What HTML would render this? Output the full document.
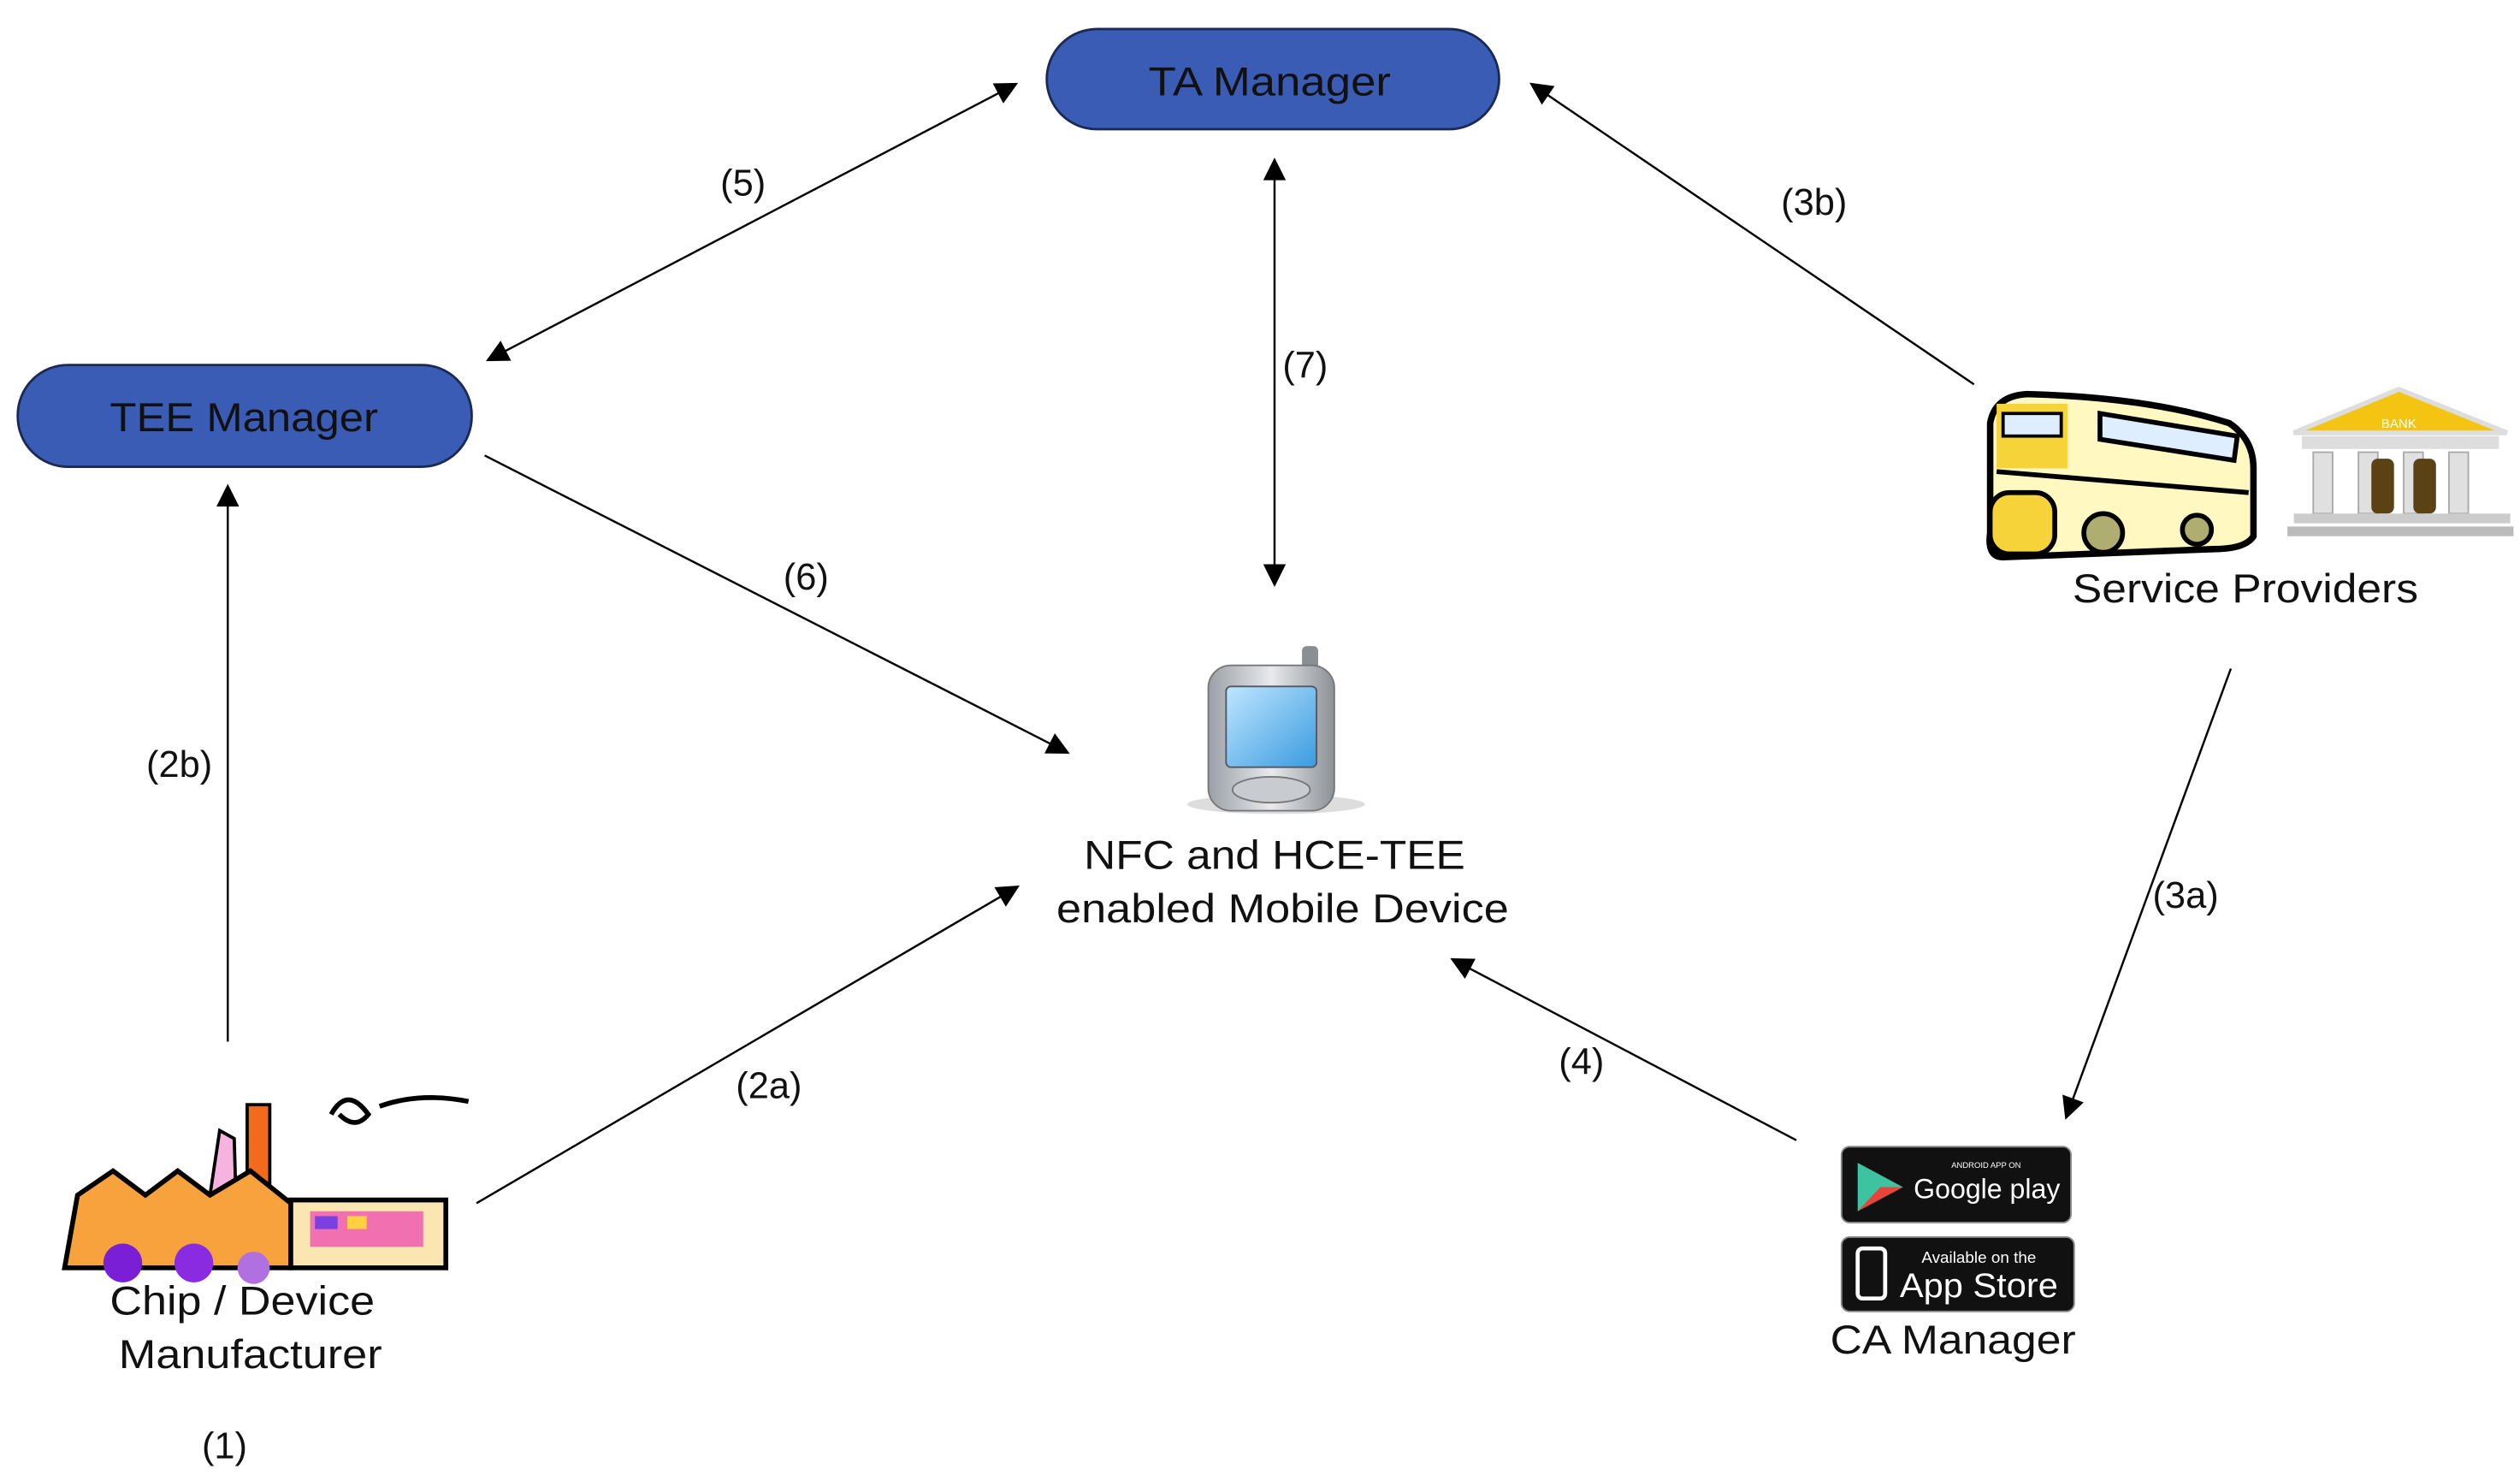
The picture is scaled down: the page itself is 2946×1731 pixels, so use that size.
<!DOCTYPE html>
<html><head><meta charset="utf-8"><style>
html,body{margin:0;padding:0;background:#fff;}
svg{display:block;}
text{font-family:"Liberation Sans",sans-serif;fill:#111;}
</style></head><body>
<svg width="2946" height="1731" viewBox="0 0 1560 917" preserveAspectRatio="none" xmlns="http://www.w3.org/2000/svg">
<defs>
<marker id="ah" viewBox="0 0 10 10" refX="9" refY="5" markerWidth="16" markerHeight="14" markerUnits="userSpaceOnUse" orient="auto-start-reverse">
<path d="M0,0 L10,5 L0,10 z" fill="#000"/></marker>
<linearGradient id="scr" x1="0" y1="0" x2="1" y2="1"><stop offset="0" stop-color="#bfe6ff"/><stop offset="1" stop-color="#3a9be0"/></linearGradient>
<linearGradient id="ph" x1="0" y1="0" x2="1" y2="0"><stop offset="0" stop-color="#9aa0a6"/><stop offset="0.5" stop-color="#e8eaec"/><stop offset="1" stop-color="#8c9196"/></linearGradient>
</defs>
<rect width="1560" height="917" fill="#fff"/>

<!-- pills -->
<rect x="648" y="18" width="280" height="62" rx="31" fill="#3a5cb4" stroke="#1b2a55" stroke-width="1.5"/>
<text x="786" y="59" font-size="25" text-anchor="middle" textLength="150" lengthAdjust="spacingAndGlyphs">TA Manager</text>
<rect x="11" y="226" width="281" height="63" rx="31" fill="#3a5cb4" stroke="#1b2a55" stroke-width="1.5"/>
<text x="151" y="267" font-size="25" text-anchor="middle" textLength="166" lengthAdjust="spacingAndGlyphs">TEE Manager</text>

<!-- arrows -->
<g stroke="#000" stroke-width="1.3" fill="none">
<line x1="302" y1="223" x2="629" y2="52" marker-start="url(#ah)" marker-end="url(#ah)"/>
<line x1="789" y1="99" x2="789" y2="362" marker-start="url(#ah)" marker-end="url(#ah)"/>
<line x1="1222" y1="238" x2="948" y2="52" marker-end="url(#ah)"/>
<line x1="300" y1="282" x2="661" y2="466" marker-end="url(#ah)"/>
<line x1="141" y1="645" x2="141" y2="301" marker-end="url(#ah)"/>
<line x1="295" y1="745" x2="630" y2="549" marker-end="url(#ah)"/>
<line x1="1112" y1="706" x2="899" y2="594" marker-end="url(#ah)"/>
<line x1="1381" y1="414" x2="1279" y2="692" marker-end="url(#ah)"/>
</g>

<!-- labels -->
<g font-size="23" text-anchor="middle">
<text x="460" y="121">(5)</text>
<text x="808" y="234">(7)</text>
<text x="1123" y="133">(3b)</text>
<text x="499" y="365">(6)</text>
<text x="111" y="481">(2b)</text>
<text x="476" y="680">(2a)</text>
<text x="979" y="665">(4)</text>
<text x="1353" y="562">(3a)</text>
<text x="139" y="903">(1)</text>
</g>
<g font-size="25" text-anchor="middle">
<text x="789" y="538" textLength="236" lengthAdjust="spacingAndGlyphs">NFC and HCE-TEE</text>
<text x="794" y="571" textLength="280" lengthAdjust="spacingAndGlyphs">enabled  Mobile  Device</text>
<text x="1390" y="373" textLength="214" lengthAdjust="spacingAndGlyphs">Service  Providers</text>
<text x="150" y="814" textLength="164" lengthAdjust="spacingAndGlyphs">Chip / Device</text>
<text x="155" y="847" textLength="163" lengthAdjust="spacingAndGlyphs">Manufacturer</text>
<text x="1209" y="838" textLength="152" lengthAdjust="spacingAndGlyphs">CA Manager</text>
</g>

<!-- phone -->
<ellipse cx="790" cy="498" rx="55" ry="6" fill="#ddd"/>
<rect x="806" y="400" width="10" height="22" rx="3" fill="#8a8f94"/>
<rect x="748" y="412" width="78" height="90" rx="14" fill="url(#ph)" stroke="#777"/>
<rect x="759" y="425" width="56" height="50" rx="3" fill="url(#scr)" stroke="#556"/>
<ellipse cx="787" cy="489" rx="24" ry="8" fill="#c8ccd0" stroke="#777"/>

<!-- bus -->
<path d="M1232,330 L1232,262 Q1235,245 1255,244 Q1330,246 1380,262 Q1395,272 1395,290 L1395,332 Q1390,340 1370,340 L1240,345 Q1230,345 1232,330 z" fill="#fff8c0" stroke="#000" stroke-width="4"/>
<rect x="1236" y="250" width="44" height="40" fill="#f7d33a"/>
<rect x="1240" y="256" width="36" height="14" fill="#dfeeff" stroke="#000" stroke-width="2"/>
<path d="M1300,256 L1385,270 L1383,285 L1300,272z" fill="#dfeeff" stroke="#000" stroke-width="3"/>
<line x1="1236" y1="292" x2="1392" y2="305" stroke="#000" stroke-width="3"/>
<rect x="1232" y="305" width="40" height="38" rx="12" fill="#f7d33a" stroke="#000" stroke-width="3"/>
<circle cx="1302" cy="330" r="12" fill="#b0ad70" stroke="#000" stroke-width="3"/>
<circle cx="1360" cy="328" r="9" fill="#b0ad70" stroke="#000" stroke-width="3"/>

<!-- bank -->
<polygon points="1485,241 1420,268 1552,268" fill="#f4c412" stroke="#ddd" stroke-width="3"/>
<text x="1485" y="265" font-size="8" text-anchor="middle" fill="#fff" style="fill:#fff">BANK</text>
<rect x="1425" y="270" width="122" height="8" fill="#ddd"/>
<g fill="#e0e0e0" stroke="#aaa">
<rect x="1432" y="280" width="12" height="38"/><rect x="1460" y="280" width="12" height="38"/>
<rect x="1488" y="280" width="12" height="38"/><rect x="1516" y="280" width="12" height="38"/>
</g>
<rect x="1468" y="284" width="14" height="34" rx="4" fill="#5a4214"/>
<rect x="1494" y="284" width="14" height="34" rx="4" fill="#5a4214"/>
<rect x="1420" y="318" width="134" height="6" fill="#ccc"/>
<rect x="1416" y="326" width="140" height="6" fill="#bbb"/>

<!-- factory -->
<path d="M205,690 Q215,672 228,690 Q220,700 210,690 M235,685 Q260,676 290,682" stroke="#000" stroke-width="3" fill="none"/>
<rect x="153" y="684" width="14" height="60" fill="#f26a1b" stroke="#000" stroke-width="2"/>
<polygon points="130,740 136,700 145,705 146,740" fill="#f6b3e0" stroke="#000" stroke-width="2"/>
<polygon points="40,785 48,740 70,725 90,740 110,725 130,740 155,725 180,745 180,785" fill="#f7a23d" stroke="#000" stroke-width="3"/>
<circle cx="76" cy="782" r="12" fill="#7a1fd6"/><circle cx="120" cy="782" r="12" fill="#8a2be2"/><circle cx="157" cy="785" r="10" fill="#b070e0"/>
<rect x="180" y="743" width="96" height="42" fill="#fbe5b0" stroke="#000" stroke-width="3"/>
<rect x="192" y="750" width="70" height="22" fill="#f070b0"/>
<rect x="195" y="753" width="14" height="8" fill="#7a40e0"/><rect x="215" y="753" width="12" height="8" fill="#ffd040"/>

<!-- store badges -->
<rect x="1140" y="710" width="142" height="47" rx="5" fill="#111" stroke="#888"/>
<polygon points="1150,720 1150,750 1178,735" fill="#3ec3a0"/>
<polygon points="1164,735 1178,735 1150,750" fill="#e8443a"/>
<text x="1208" y="723" font-size="5" style="fill:#fff">ANDROID APP ON</text>
<text x="1230" y="742" font-size="17" text-anchor="middle" style="fill:#fff">Google play</text>
<rect x="1140" y="766" width="144" height="46" rx="5" fill="#111" stroke="#888"/>
<rect x="1150" y="773" width="17" height="31" rx="3" fill="none" stroke="#fff" stroke-width="2.5"/>
<text x="1225" y="782" font-size="10" text-anchor="middle" style="fill:#fff">Available on the</text>
<text x="1225" y="803" font-size="21" text-anchor="middle" style="fill:#fff" textLength="98" lengthAdjust="spacingAndGlyphs">App Store</text>
</svg>
</body></html>
